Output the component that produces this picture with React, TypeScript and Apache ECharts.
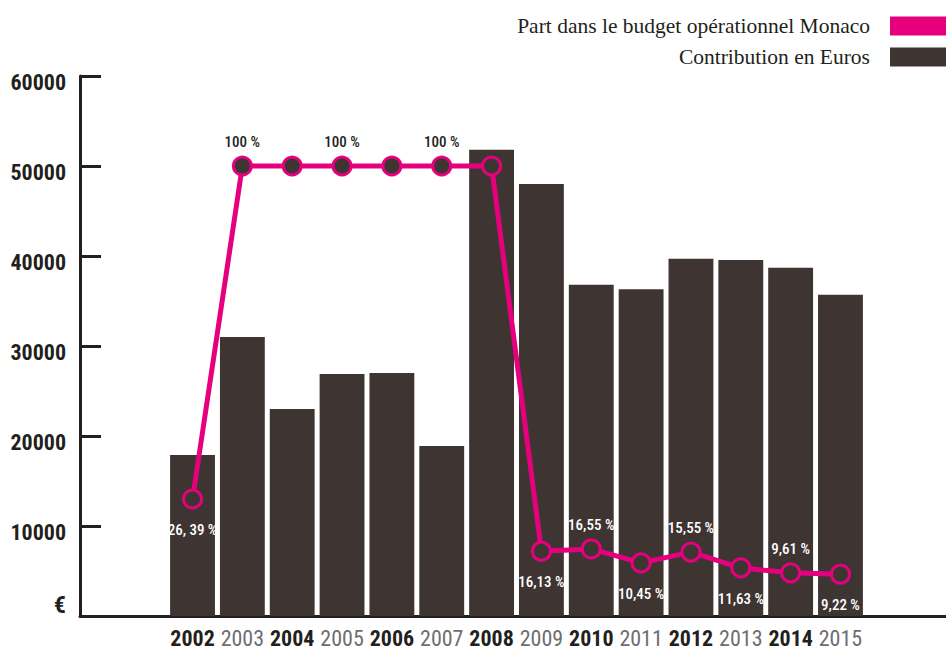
import React, { useEffect, useRef } from "react";
import * as echarts from "echarts";

const years = ["2002","2003","2004","2005","2006","2007","2008","2009","2010","2011","2012","2013","2014","2015"];
const contribution = [17900, 31000, 23000, 26900, 27000, 18900, 51800, 48000, 36800, 36300, 39700, 39550, 38700, 35700];
const shareDrawn = [26.0, 100, 100, 100, 100, 100, 100, 14.4, 14.9, 11.8, 14.2, 10.7, 9.6, 9.3];
const shareLabels = ["26, 39 %", "100 %", "", "100 %", "", "100 %", "", "16,13 %", "16,55 %", "10,45 %", "15,55 %", "11,63 %", "9,61 %", "9,22 %"];
const labelSide = ["bottom", "top", "top", "top", "top", "top", "top", "bottom", "top", "bottom", "top", "bottom", "top", "bottom"];

const PINK = "#e6007e";
const DARK = "#3e3533";
const INK = "#231f20";
const GREY = "#6d6e71";
const NARROW = "'Roboto Condensed', 'Open Sans Condensed', 'Liberation Sans Narrow', Roboto, sans-serif";
const SERIF = "'Liberation Serif', 'DejaVu Serif', serif";

export default function App() {
  const ref = useRef<HTMLDivElement>(null);
  useEffect(() => {
    if (!ref.current) return;
    const chart = echarts.init(ref.current, null, { renderer: "svg" });
    const lineData = shareDrawn.map((v, i) => ({
      value: v,
      label: {
        show: shareLabels[i] !== "",
        position: labelSide[i],
        distance: labelSide[i] === "bottom" ? 13 : 6,
        formatter: shareLabels[i],
        color: v >= 100 ? INK : "#ffffff",
        fontFamily: NARROW,
        fontSize: 15,
        fontWeight: 500,
      },
    }));
    chart.setOption({
      animation: false,
      backgroundColor: "#ffffff",
      legend: {
        orient: "vertical",
        right: 0,
        top: 15,
        align: "right",
        itemWidth: 56,
        itemHeight: 19,
        itemGap: 9,
        padding: 0,
        textStyle: { fontFamily: SERIF, fontSize: 21.5, color: INK, padding: [0, 15, 0, 0] },
        data: [
          { name: "Part dans le budget opérationnel Monaco", icon: "rect", itemStyle: { color: PINK, borderWidth: 0 } },
          { name: "Contribution en Euros", icon: "rect", itemStyle: { color: DARK } },
        ],
      },
      grid: [
        { left: 80, right: 0, top: 76, bottom: 34 },
        { left: 167.6, right: 80.6, top: 76, bottom: 34 },
      ],
      xAxis: [
        {
          gridIndex: 0,
          type: "value",
          min: 0,
          max: 1,
          axisLine: { show: true, lineStyle: { color: INK, width: 3 } },
          axisTick: { show: false },
          axisLabel: { show: false },
          splitLine: { show: false },
        },
        {
          gridIndex: 1,
          type: "category",
          data: years,
          axisLine: { show: false },
          axisTick: { show: false },
          axisLabel: {
            interval: 0,
            margin: 11,
            formatter: (v: string, i: number) => (i % 2 === 0 ? `{a|${v}}` : `{b|${v}}`),
            rich: {
              a: { fontFamily: NARROW, fontSize: 22, fontWeight: "bold", color: INK },
              b: { fontFamily: NARROW, fontSize: 22, fontWeight: "normal", color: GREY },
            },
          },
        },
      ],
      yAxis: [
        {
          gridIndex: 0,
          type: "value",
          min: 0,
          max: 60000,
          interval: 10000,
          axisLine: { show: true, lineStyle: { color: INK, width: 3 } },
          axisTick: { show: true, inside: true, length: 21, lineStyle: { color: INK, width: 3 } },
          splitLine: { show: false },
          axisLabel: {
            margin: 14,
            formatter: (v: number) => (v === 0 ? "{e|€}" : `{n|${v}}`),
            rich: {
              n: { fontFamily: NARROW, fontSize: 22, fontWeight: "bold", color: INK, padding: [12, 0, 0, 0] },
              e: { fontFamily: NARROW, fontSize: 24, fontWeight: "bold", color: INK, padding: [0, 0, 22, 0] },
            },
          },
        },
        { gridIndex: 1, type: "value", min: 0, max: 60000, show: false },
        { gridIndex: 1, type: "value", min: 0, max: 120, show: false },
      ],
      series: [
        {
          name: "Contribution en Euros",
          type: "bar",
          xAxisIndex: 1,
          yAxisIndex: 1,
          data: contribution,
          barCategoryGap: "10%",
          itemStyle: { color: DARK },
          z: 2,
        },
        {
          name: "Part dans le budget opérationnel Monaco",
          type: "line",
          xAxisIndex: 1,
          yAxisIndex: 2,
          data: lineData,
          symbol: "circle",
          symbolSize: 18,
          showAllSymbol: true,
          lineStyle: { color: PINK, width: 5 },
          itemStyle: { color: DARK, borderColor: PINK, borderWidth: 3 },
          z: 3,
        },
      ],
    });
    return () => chart.dispose();
  }, []);
  return <div ref={ref} style={{ width: 946, height: 650, position: "fixed", left: 0, top: 0 }} />;
}
